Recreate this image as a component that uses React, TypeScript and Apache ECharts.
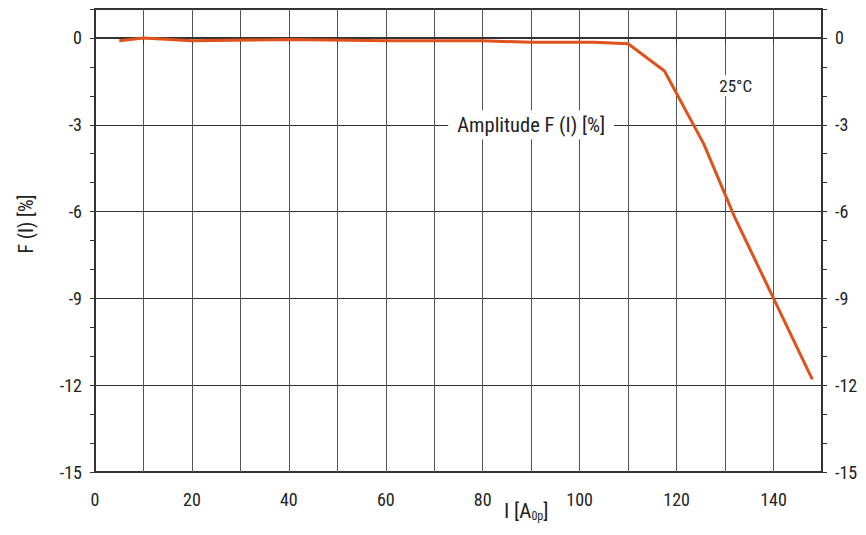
import React, { useEffect, useRef } from "react";
import * as echarts from "echarts";

const currentA = [5, 10, 20, 40, 60, 80, 90, 103, 110, 117.5, 125.6, 132, 140, 142, 148];
const amplitudePct = [-0.1, 0, -0.1, -0.05, -0.1, -0.1, -0.15, -0.15, -0.2, -1.14, -3.66, -6.2, -9.0, -9.7, -11.8];
const xTickLabels = [0, 20, 40, 60, 80, 100, 120, 140];
const yTickLabels = [0, -3, -6, -9, -12, -15];

const FONT = "'Liberation Sans Narrow', 'Roboto Condensed', 'Liberation Sans', Arial, sans-serif";
const TXT = "#222";

export default function App() {
  const ref = useRef<HTMLDivElement>(null);
  useEffect(() => {
    if (!ref.current) return;
    const chart = echarts.init(ref.current, undefined, { renderer: "svg" });
    const yLabel = (v: number) => (yTickLabels.includes(v) ? String(v) : "");
    const yAxisBase = {
      type: "value",
      min: -15,
      max: 1,
      interval: 1,
      axisLine: { show: true, lineStyle: { color: "#333", width: 2 } },
      axisTick: { show: true, length: 5, lineStyle: { color: "#333", width: 1 } },
      axisLabel: { formatter: yLabel, color: TXT, fontSize: 18, fontFamily: FONT, margin: 13 },
    };
    chart.setOption({
      animation: false,
      backgroundColor: "#fff",
      grid: { left: 95, right: 44, top: 9, bottom: 63, show: true, borderColor: "#333", borderWidth: 2 },
      xAxis: {
        type: "value",
        min: 0,
        max: 150,
        interval: 10,
        axisLine: { show: true, lineStyle: { color: "#333", width: 2 } },
        axisTick: { show: true, length: 6, lineStyle: { color: "#333", width: 1 } },
        axisLabel: {
          formatter: (v: number) => (xTickLabels.includes(v) ? String(v) : ""),
          color: TXT,
          fontSize: 18,
          fontFamily: FONT,
          margin: 18,
        },
        splitLine: { show: true, lineStyle: { color: "#555", width: 1 } },
      },
      yAxis: [
        {
          ...yAxisBase,
          position: "left",
          splitLine: {
            show: true,
            lineStyle: { color: ["#333", "rgba(0,0,0,0)", "rgba(0,0,0,0)"], width: 1 },
          },
        },
        {
          ...yAxisBase,
          position: "right",
          axisLabel: { ...yAxisBase.axisLabel, margin: 13 },
          splitLine: { show: false },
        },
      ],
      graphic: [
        {
          type: "text",
          left: 504,
          top: 500,
          style: {
            text: "I [A{s|0p}]",
            font: `21px ${FONT}`,
            fill: TXT,
            rich: { s: { fontSize: 12, fontFamily: FONT, fill: TXT, padding: [11, 0, 0, 0] } },
          },
        },
        {
          type: "text",
          x: 26,
          y: 224,
          rotation: Math.PI / 2,
          style: {
            text: "F (I) [%]",
            font: `20px ${FONT}`,
            fill: TXT,
            align: "center",
            verticalAlign: "middle",
          },
        },
      ],
      series: [
        {
          type: "line",
          yAxisIndex: 0,
          data: currentA.map((x, i) => [x, amplitudePct[i]]),
          showSymbol: false,
          lineStyle: { color: "#e0521b", width: 3 },
          itemStyle: { color: "#e0521b" },
          z: 5,
          markPoint: {
            symbol: "rect",
            symbolSize: 1,
            itemStyle: { color: "rgba(0,0,0,0)" },
            data: [
              {
                coord: [90, -3],
                label: {
                  show: true,
                  position: "inside",
                  formatter: "Amplitude F (I) [%]",
                  color: TXT,
                  fontSize: 20.5,
                  fontFamily: FONT,
                  backgroundColor: "#fff",
                  padding: [4, 9],
                },
              },
              {
                coord: [132.2, -1.65],
                label: {
                  show: true,
                  position: "inside",
                  formatter: "25°C",
                  color: TXT,
                  fontSize: 17,
                  fontFamily: FONT,
                  backgroundColor: "#fff",
                  padding: [2, 2],
                },
              },
            ],
          },
        },
      ],
    });
    return () => chart.dispose();
  }, []);
  return <div ref={ref} style={{ position: "absolute", left: 0, top: 0, width: 866, height: 535 }} />;
}
